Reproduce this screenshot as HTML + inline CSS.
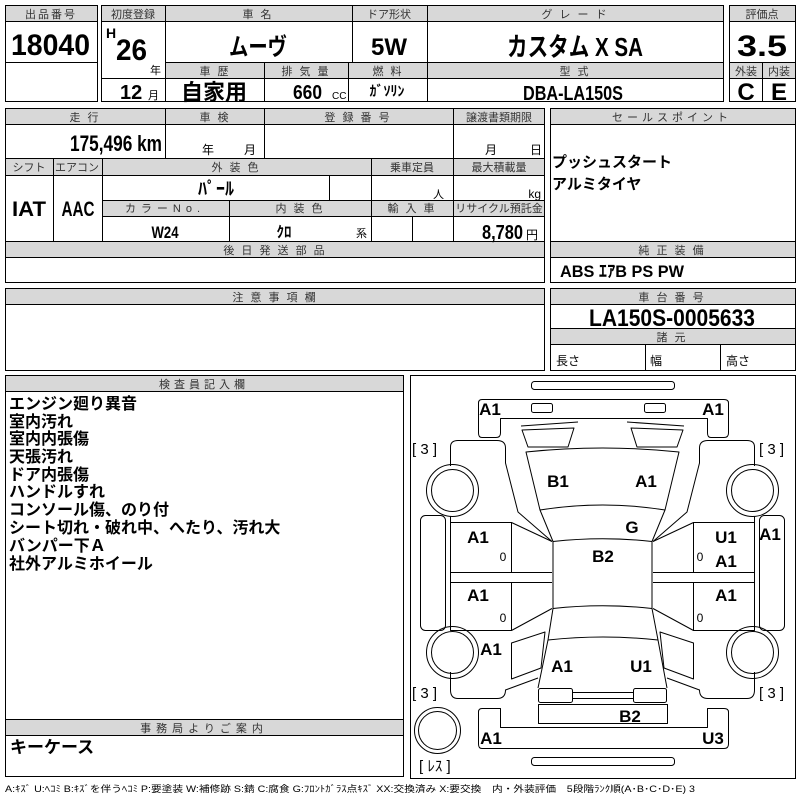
<!DOCTYPE html>
<html><head><meta charset="utf-8"><style>
html,body{margin:0;padding:0;background:#fff;width:800px;height:800px;overflow:hidden}
svg{display:block}
text{font-family:"Liberation Sans","Noto Sans CJK JP",sans-serif;fill:#000}
.h{font-size:11px;fill:#333;text-anchor:middle;letter-spacing:2px}
.b{font-weight:bold}
.m{text-anchor:middle}
.g{fill:#d8d8d8}
.s{fill:none;stroke:#000;stroke-width:1}
.dl{font-weight:bold;font-size:17px;text-anchor:middle}
</style></head><body>
<svg width="800" height="800" viewBox="0 0 800 800" xmlns="http://www.w3.org/2000/svg">
<!-- 出品番号 -->
<rect class="g" x="5.5" y="5.5" width="92" height="16"/>
<rect class="s" x="5.5" y="5.5" width="92" height="96"/>
<path class="s" d="M5.5,21.5H97.5M5.5,62.5H97.5"/>
<text class="h" x="51" y="18">出品番号</text>
<text class="b" x="11" y="55" font-size="30" textLength="79" lengthAdjust="spacingAndGlyphs">18040</text>

<!-- main top block -->
<rect class="g" x="101.5" y="5.5" width="622" height="16"/>
<rect class="g" x="165.5" y="62.5" width="558" height="16"/>
<rect class="s" x="101.5" y="5.5" width="622" height="96"/>
<path class="s" d="M101.5,21.5H723.5M165.5,62.5H723.5M165.5,78.5H723.5M101.5,78.5H165.5M165.5,5.5V101.5M352.5,5.5V62.5M427.5,5.5V101.5M264.5,62.5V101.5M348.5,62.5V101.5"/>
<text class="h" x="133" y="18" style="letter-spacing:0">初度登録</text>
<text class="h" x="258" y="18">車 名</text>
<text class="h" x="389" y="18" style="letter-spacing:0">ドア形状</text>
<text class="h" x="575" y="18">グ レ ー ド</text>
<text class="h" x="215" y="75">車 歴</text>
<text class="h" x="306" y="75">排 気 量</text>
<text class="h" x="388" y="75">燃 料</text>
<text class="h" x="575" y="75">型 式</text>
<text class="b" x="106" y="38" font-size="14">H</text>
<text class="b" x="116" y="60" font-size="30" textLength="31" lengthAdjust="spacingAndGlyphs">26</text>
<text x="150" y="74" font-size="11">年</text>
<text class="b" x="120" y="99" font-size="20">12</text>
<text x="148" y="99" font-size="11">月</text>
<text class="b m" x="258" y="55" font-size="24" textLength="58" lengthAdjust="spacingAndGlyphs">ムーヴ</text>
<text class="b m" x="389" y="55" font-size="24">5W</text>
<text class="b m" x="575" y="56" font-size="26" textLength="136" lengthAdjust="spacingAndGlyphs">カスタム X SA</text>
<text class="b m" x="214" y="100" font-size="22">自家用</text>
<text class="b" x="293" y="99" font-size="20" textLength="29" lengthAdjust="spacingAndGlyphs">660</text>
<text x="332" y="99" font-size="10">CC</text>
<text class="b m" x="387" y="96" font-size="14">ｶﾞｿﾘﾝ</text>
<text class="b m" x="573" y="100" font-size="20" textLength="100" lengthAdjust="spacingAndGlyphs">DBA-LA150S</text>

<!-- 評価点 -->
<rect class="g" x="729.5" y="5.5" width="66" height="16"/>
<rect class="g" x="729.5" y="62.5" width="66" height="16"/>
<rect class="s" x="729.5" y="5.5" width="66" height="96"/>
<path class="s" d="M729.5,21.5H795.5M729.5,62.5H795.5M729.5,78.5H795.5M762.5,62.5V101.5"/>
<text class="h" x="762" y="18" style="letter-spacing:0">評価点</text>
<text class="b m" x="762" y="56" font-size="30" textLength="50" lengthAdjust="spacingAndGlyphs">3.5</text>
<text class="h" x="746" y="75" style="letter-spacing:0">外装</text>
<text class="h" x="779" y="75" style="letter-spacing:0">内装</text>
<text class="b m" x="746" y="100" font-size="24">C</text>
<text class="b m" x="779" y="100" font-size="24">E</text>

<!-- second block -->
<rect class="g" x="5.5" y="108.5" width="539" height="16"/>
<rect class="g" x="5.5" y="158.5" width="539" height="17"/>
<rect class="g" x="102.5" y="200.5" width="442" height="16"/>
<rect class="g" x="5.5" y="241.5" width="539" height="16"/>
<rect class="s" x="5.5" y="108.5" width="539" height="174"/>
<path class="s" d="M5.5,124.5H544.5M5.5,158.5H544.5M5.5,175.5H544.5M102.5,200.5H544.5M102.5,216.5H544.5M5.5,241.5H544.5M5.5,257.5H544.5
M165.5,108.5V158.5M264.5,108.5V158.5M453.5,108.5V158.5
M53.5,158.5V241.5M102.5,158.5V241.5M371.5,158.5V241.5M453.5,158.5V241.5M329.5,175.5V200.5M229.5,200.5V241.5M412.5,216.5V241.5"/>
<text class="h" x="85" y="121">走 行</text>
<text class="h" x="215" y="121">車 検</text>
<text class="h" x="358" y="121">登 録 番 号</text>
<text class="h" x="499" y="121" style="letter-spacing:0">譲渡書類期限</text>
<text class="b" x="70" y="151" font-size="22" textLength="92" lengthAdjust="spacingAndGlyphs">175,496 km</text>
<text x="202" y="154" font-size="12">年</text>
<text x="244" y="154" font-size="12">月</text>
<text x="485" y="154" font-size="12">月</text>
<text x="530" y="154" font-size="12">日</text>
<text class="h" x="29" y="171" style="letter-spacing:0">シフト</text>
<text class="h" x="77" y="171" style="letter-spacing:0">エアコン</text>
<text class="h" x="236" y="171">外 装 色</text>
<text class="h" x="412" y="171" style="letter-spacing:0">乗車定員</text>
<text class="h" x="499" y="171" style="letter-spacing:0">最大積載量</text>
<text class="b m" x="29" y="216" font-size="21" textLength="34" lengthAdjust="spacingAndGlyphs">IAT</text>
<text class="b m" x="78" y="216" font-size="21" textLength="33" lengthAdjust="spacingAndGlyphs">AAC</text>
<text class="b m" x="216" y="195" font-size="18">ﾊﾟｰﾙ</text>
<text x="444" y="198" font-size="11" text-anchor="end">人</text>
<text x="541" y="198" font-size="12" text-anchor="end">kg</text>
<text class="h" x="165" y="212" style="letter-spacing:5px">カラーNo.</text>
<text class="h" x="300" y="212">内 装 色</text>
<text class="h" x="412" y="212">輸 入 車</text>
<text class="h" x="499" y="212" style="letter-spacing:0">リサイクル預託金</text>
<text class="b m" x="165" y="238" font-size="17" textLength="27" lengthAdjust="spacingAndGlyphs">W24</text>
<text class="b m" x="284" y="237" font-size="15">ｸﾛ</text>
<text x="356" y="237" font-size="11">系</text>
<text class="b" x="482" y="239" font-size="20" textLength="41" lengthAdjust="spacingAndGlyphs">8,780</text>
<text x="526" y="239" font-size="12">円</text>
<text class="h" x="275" y="254">後 日 発 送 部 品</text>

<!-- sale points -->
<rect class="g" x="550.5" y="108.5" width="245" height="16"/>
<rect class="g" x="550.5" y="241.5" width="245" height="16"/>
<rect class="s" x="550.5" y="108.5" width="245" height="174"/>
<path class="s" d="M550.5,124.5H795.5M550.5,241.5H795.5M550.5,257.5H795.5"/>
<text class="h" x="672" y="121" style="letter-spacing:4px">セールスポイント</text>
<text class="b" x="552" y="167" font-size="15">プッシュスタート</text>
<text class="b" x="552" y="189" font-size="15">アルミタイヤ</text>
<text class="h" x="672" y="254">純 正 装 備</text>
<text class="b" x="560" y="277" font-size="17" textLength="124" lengthAdjust="spacingAndGlyphs">ABS ｴｱB PS PW</text>

<!-- 注意事項欄 -->
<rect class="g" x="5.5" y="288.5" width="539" height="16"/>
<rect class="s" x="5.5" y="288.5" width="539" height="82"/>
<path class="s" d="M5.5,304.5H544.5"/>
<text class="h" x="275" y="301">注 意 事 項 欄</text>

<!-- 車台番号 -->
<rect class="g" x="550.5" y="288.5" width="245" height="16"/>
<rect class="g" x="550.5" y="328.5" width="245" height="16"/>
<rect class="s" x="550.5" y="288.5" width="245" height="82"/>
<path class="s" d="M550.5,304.5H795.5M550.5,328.5H795.5M550.5,344.5H795.5M645.5,344.5V370.5M720.5,344.5V370.5"/>
<text class="h" x="672" y="301">車 台 番 号</text>
<text class="b m" x="672" y="326" font-size="24" textLength="166" lengthAdjust="spacingAndGlyphs">LA150S-0005633</text>
<text class="h" x="672" y="341">諸 元</text>
<text x="556" y="365" font-size="12">長さ</text>
<text x="650" y="365" font-size="12">幅</text>
<text x="726" y="365" font-size="12">高さ</text>

<!-- inspector -->
<rect class="g" x="5.5" y="375.5" width="398" height="16"/>
<rect class="g" x="5.5" y="719.5" width="398" height="16"/>
<rect class="s" x="5.5" y="375.5" width="398" height="401"/>
<path class="s" d="M5.5,391.5H403.5M5.5,719.5H403.5M5.5,735.5H403.5"/>
<text class="h" x="204" y="388" style="letter-spacing:4px">検査員記入欄</text>
<g class="b" font-size="16">
<text x="9" y="409">エンジン廻り異音</text>
<text x="9" y="427">室内汚れ</text>
<text x="9" y="444">室内内張傷</text>
<text x="9" y="462">天張汚れ</text>
<text x="9" y="480">ドア内張傷</text>
<text x="9" y="497">ハンドルすれ</text>
<text x="9" y="515">コンソール傷、のり付</text>
<text x="9" y="533">シート切れ・破れ中、へたり、汚れ大</text>
<text x="9" y="551">バンパー下Ａ</text>
<text x="9" y="569">社外アルミホイール</text>
</g>
<text class="h" x="204" y="732" style="letter-spacing:5px">事務局よりご案内</text>
<text class="b" x="10" y="753" font-size="17">キーケース</text>

<!-- diagram -->
<rect class="s" x="410.5" y="375.5" width="385" height="403"/>
<g class="s" stroke-linejoin="round">
<rect x="531.5" y="381.5" width="143" height="8" rx="3"/>
<rect x="531.5" y="757.5" width="143" height="8" rx="3"/>
<path d="M478.5,403Q478.5,399.5 482,399.5H724Q728.5,399.5 728.5,403V433Q728.5,437.5 724,437.5H711Q707.5,437.5 707.5,433V418.5H500.5V433Q500.5,437.5 496,437.5H482Q478.5,437.5 478.5,433Z"/>
<rect x="531.5" y="403.5" width="21" height="9" rx="2"/>
<rect x="644.5" y="403.5" width="21" height="9" rx="2"/>
<path d="M478.5,712Q478.5,708.5 482,708.5H500.5V727.5H707.5V708.5H724Q728.5,708.5 728.5,712V744Q728.5,748.5 724,748.5H482Q478.5,748.5 478.5,744Z"/>
<path d="M526,452Q603,444 679,452L665,510Q603,500 540,510Z"/>
<path d="M540,510L553,541.5Q603,536 652,541.5L665,510"/>
<path d="M553,541.5V608.5M652,541.5V608.5M553,608.5Q603,603 652,608.5"/>
<path d="M553,608.5L548,640M652,608.5L658,640M548,640Q603,634 658,640M548,640L538,688M658,640L667,688"/>
<rect x="538.5" y="688.5" width="34" height="14" rx="2"/>
<rect x="633.5" y="688.5" width="33" height="14" rx="2"/>
<path d="M572.5,692.5H633.5M572.5,698.5H633.5"/>
<rect x="538.5" y="704.5" width="129" height="19"/>
<g id="L">
<path d="M521,426L578,422"/>
<path d="M522,430L574,428L568,447L528,447Z"/>
<path d="M450.5,466V447Q450.5,440.5 458,440.5H497Q505.5,440.5 505.5,448V463L518,512L552,541.5"/>
<path d="M450.5,516V630.5H511.5L552,608.5M450.5,522.5H511.5L552,541.5M511.5,522.5V572.5M450.5,572.5H552M450.5,582.5H552M511.5,582.5V630.5"/>
<rect x="420.5" y="515.5" width="25" height="115" rx="5"/>
<path d="M450.5,672V690Q450.5,698.5 458,698.5H497Q505.5,698.5 505.5,690L538,678"/>
<path d="M511.5,643L545,632L541,668L511.5,679Z"/>
<circle cx="452.5" cy="490.5" r="26"/><circle cx="452.5" cy="490.5" r="21"/>
<circle cx="452.5" cy="652.5" r="26"/><circle cx="452.5" cy="652.5" r="21"/>
</g>
<use href="#L" transform="translate(1205,0) scale(-1,1)"/>
<circle cx="437.5" cy="730.5" r="23"/><circle cx="437.5" cy="730.5" r="19"/>
</g>
<g font-size="15">
<text x="412" y="454">[ 3 ]</text><text x="759" y="454">[ 3 ]</text>
<text x="412" y="698">[ 3 ]</text><text x="759" y="698">[ 3 ]</text>
<text x="419" y="771">[ ﾚｽ ]</text>
</g>
<g>
<text class="dl" x="490" y="415">A1</text><text class="dl" x="713" y="415">A1</text>
<text class="dl" x="558" y="487">B1</text><text class="dl" x="646" y="487">A1</text>
<text class="dl" x="632" y="533">G</text>
<text class="dl" x="478" y="543">A1</text><text class="dl" x="603" y="562">B2</text>
<text class="dl" x="726" y="543">U1</text><text class="dl" x="726" y="567">A1</text>
<text class="dl" x="770" y="540">A1</text>
<text class="dl" x="478" y="601">A1</text><text class="dl" x="726" y="601">A1</text>
<text class="dl" x="491" y="655">A1</text>
<text class="dl" x="562" y="672">A1</text><text class="dl" x="641" y="672">U1</text>
<text class="dl" x="630" y="722">B2</text>
<text class="dl" x="491" y="744">A1</text><text class="dl" x="713" y="744">U3</text>
<text x="503" y="561" font-size="12" text-anchor="middle">0</text>
<text x="503" y="622" font-size="12" text-anchor="middle">0</text>
<text x="700" y="561" font-size="12" text-anchor="middle">0</text>
<text x="700" y="622" font-size="12" text-anchor="middle">0</text>
</g>
<text x="5" y="792" font-size="9" fill="#333" textLength="690" lengthAdjust="spacingAndGlyphs">A:ｷｽﾞ U:ﾍｺﾐ B:ｷｽﾞを伴うﾍｺﾐ P:要塗装 W:補修跡 S:錆 C:腐食 G:ﾌﾛﾝﾄｶﾞﾗｽ点ｷｽﾞ XX:交換済み X:要交換　内・外装評価　5段階ﾗﾝｸ順(A･B･C･D･E) 3</text>
</svg>
</body></html>
